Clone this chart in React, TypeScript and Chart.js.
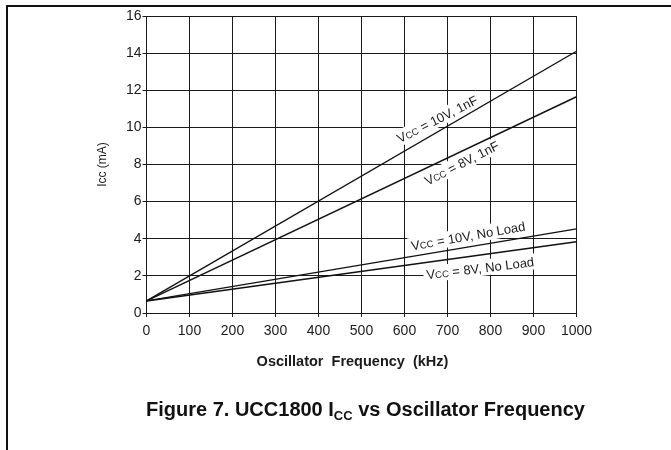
import React, { useEffect, useRef } from 'react';
import { Chart, registerables } from 'chart.js';

Chart.register(...registerables);

// ---- data ----
const freqKHz = [0, 1000];
const icc10V1nF = [0.65, 14.1];
const icc8V1nF = [0.65, 11.65];
const icc10VNoLoad = [0.65, 4.53];
const icc8VNoLoad = [0.65, 3.84];

const xTickValues = [0, 100, 200, 300, 400, 500, 600, 700, 800, 900, 1000];
const yTickValues = [0, 2, 4, 6, 8, 10, 12, 14, 16];

const seriesLabels = [' = 10V, 1nF', ' = 8V, 1nF', ' = 10V, No Load', ' = 8V, No Load'];
// annotation anchor (data coords) and rotation for each series label
const labelAnchorX = [676, 733, 748, 776];
const labelAnchorY = [10.45, 8.08, 4.16, 2.42];
const labelAngleDeg = [-27, -27, -10, -7];

const xTitle = 'Oscillator  Frequency  (kHz)';
const yTitle = 'Icc (mA)';

const FONT = "'Liberation Sans', Arial, Helvetica, sans-serif";
const INK = '#1a1a1a';

function drawSeriesLabels(chart: any, mode: 'box' | 'text') {
  const ctx = chart.ctx;
  const xs = chart.scales.x;
  const ys = chart.scales.y;
  seriesLabels.forEach((rest, i) => {
    const px = xs.getPixelForValue(labelAnchorX[i]);
    const py = ys.getPixelForValue(labelAnchorY[i]);
    const ang = (labelAngleDeg[i] * Math.PI) / 180;
    ctx.save();
    ctx.translate(px, py);
    ctx.rotate(ang);
    ctx.font = `13px ${FONT}`;
    const wV = ctx.measureText('V').width;
    const wRest = ctx.measureText(rest).width;
    ctx.font = `9.5px ${FONT}`;
    const wCC = ctx.measureText('CC').width;
    const total = wV + wCC + wRest;
    const x0 = -total / 2;
    if (mode === 'box') {
      ctx.fillStyle = '#ffffff';
      ctx.fillRect(x0 - 3, -8, total + 6, 16);
    } else {
      ctx.fillStyle = INK;
      ctx.textBaseline = 'alphabetic';
      ctx.textAlign = 'left';
      const base = 4.7;
      ctx.font = `13px ${FONT}`;
      ctx.fillText('V', x0, base);
      ctx.font = `9.5px ${FONT}`;
      ctx.fillText('CC', x0 + wV, base);
      ctx.font = `13px ${FONT}`;
      ctx.fillText(rest, x0 + wV + wCC, base);
    }
    ctx.restore();
  });
}

const decorPlugin = {
  id: 'decor',
  beforeDatasetsDraw(chart: any) {
    drawSeriesLabels(chart, 'box');
  },
  afterDatasetsDraw(chart: any) {
    drawSeriesLabels(chart, 'text');
  },
  afterDraw(chart: any) {
    const ctx = chart.ctx;
    const ca = chart.chartArea;
    ctx.save();
    // figure frame (top and left rules)
    ctx.strokeStyle = '#111';
    ctx.lineWidth = 2;
    ctx.beginPath();
    ctx.moveTo(671, 6);
    ctx.lineTo(7, 6);
    ctx.lineTo(7, 450);
    ctx.stroke();
    // axis titles
    ctx.fillStyle = INK;
    ctx.textAlign = 'center';
    ctx.textBaseline = 'middle';
    ctx.font = `bold 14.5px ${FONT}`;
    ctx.fillText(xTitle, 352.5, 361.5);
    ctx.translate(103, (ca.top + ca.bottom) / 2);
    ctx.rotate(-Math.PI / 2);
    ctx.font = `12px ${FONT}`;
    ctx.fillText(yTitle, 0, 0);
    ctx.restore();
  },
};

function makeDataset(values: number[]) {
  return {
    data: freqKHz.map((f, i) => ({ x: f, y: values[i] })),
    borderColor: '#111',
    borderWidth: 1.4,
    pointRadius: 0,
    fill: false,
    tension: 0,
  };
}

export default function App() {
  const canvasRef = useRef<HTMLCanvasElement | null>(null);

  useEffect(() => {
    if (!canvasRef.current) return;
    const chart = new Chart(canvasRef.current, {
      type: 'line',
      data: {
        datasets: [
          makeDataset(icc10V1nF),
          makeDataset(icc8V1nF),
          makeDataset(icc10VNoLoad),
          makeDataset(icc8VNoLoad),
        ],
      },
      options: {
        responsive: false,
        animation: false,
        devicePixelRatio: 1,
        layout: { padding: { left: 60, top: 16, right: 94.5, bottom: 81 } },
        plugins: { legend: { display: false }, tooltip: { enabled: false } },
        scales: {
          x: {
            type: 'linear',
            min: 0,
            max: 1000,
            afterFit: (s: any) => {
              s.height = 56;
            },
            afterBuildTicks: (s: any) => {
              s.ticks = xTickValues.map((v) => ({ value: v }));
            },
            grid: { color: INK, lineWidth: 1, tickLength: 4, drawTicks: true },
            border: { color: INK, width: 1 },
            ticks: {
              color: INK,
              font: { family: FONT, size: 14 },
              padding: 6,
              maxRotation: 0,
              autoSkip: false,
              callback: (v: any) => String(v),
            },
          },
          y: {
            type: 'linear',
            min: 0,
            max: 16,
            afterFit: (s: any) => {
              s.width = 86.5;
            },
            afterBuildTicks: (s: any) => {
              s.ticks = yTickValues.map((v) => ({ value: v }));
            },
            grid: { color: INK, lineWidth: 1, tickLength: 4, drawTicks: true },
            border: { color: INK, width: 1 },
            ticks: {
              color: INK,
              font: { family: FONT, size: 14 },
              padding: 1,
              autoSkip: false,
              callback: (v: any) => String(v),
            },
          },
        },
      },
      plugins: [decorPlugin],
    });
    return () => chart.destroy();
  }, []);

  return (
    <div style={{ position: 'absolute', left: 0, top: 0, width: 671, height: 450, background: '#fff' }}>
      <canvas ref={canvasRef} width={671} height={450} style={{ position: 'absolute', left: 0, top: 0 }} />
      <div
        style={{
          position: 'absolute',
          left: 0,
          top: 398,
          width: 731,
          textAlign: 'center',
          fontFamily: "'Liberation Sans Narrow', 'Arial Narrow', 'Liberation Sans', Arial, sans-serif",
          fontWeight: 'bold',
          fontSize: 20,
          lineHeight: '22px',
          color: '#111',
          whiteSpace: 'nowrap',
        }}
      >
        Figure 7. UCC1800 I
        <sub style={{ fontSize: 13, verticalAlign: '-4px', lineHeight: 0 }}>CC</sub> vs Oscillator Frequency
      </div>
    </div>
  );
}
